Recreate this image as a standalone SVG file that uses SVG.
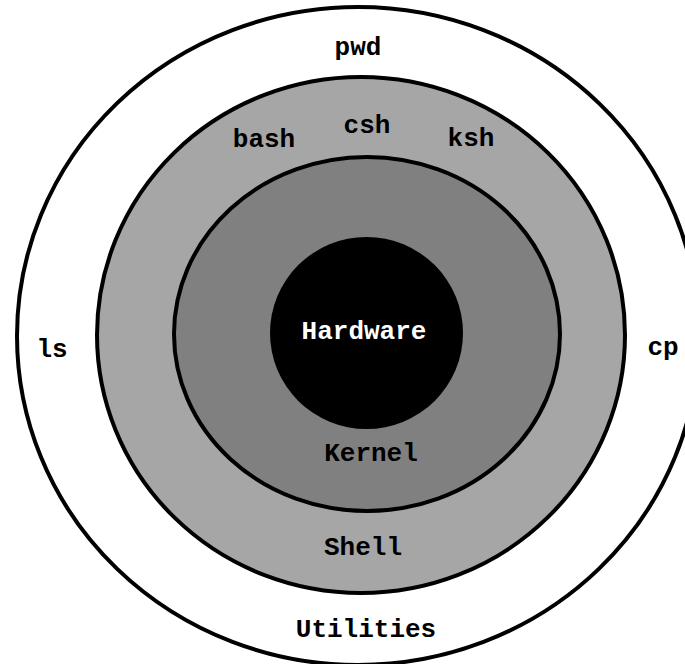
<svg xmlns="http://www.w3.org/2000/svg" width="685" height="664" viewBox="0 0 685 664">
<style>
.ring{stroke:#000;stroke-width:4}
.t{font-family:"Liberation Mono","Courier New",monospace;font-weight:bold;font-size:26px;text-anchor:middle;fill:#000}
.w{fill:#fff}
</style>
<rect width="685" height="664" fill="#fff"/>
<g id="utilities">
<ellipse class="ring" cx="358" cy="336" rx="341" ry="329" fill="#fff"/>
<text class="t" x="358" y="55">pwd</text>
<text class="t" x="52" y="357">ls</text>
<text class="t" x="663" y="355">cp</text>
<text class="t" x="366" y="637">Utilities</text>
</g>
<g id="shell">
<ellipse class="ring" cx="361" cy="335" rx="264" ry="258" fill="#a6a6a6"/>
<text class="t" x="264" y="147">bash</text>
<text class="t" x="367" y="133">csh</text>
<text class="t" x="471" y="146">ksh</text>
<text class="t" x="363" y="555">Shell</text>
</g>
<g id="kernel">
<ellipse class="ring" cx="367" cy="334" rx="193" ry="177" fill="#808080"/>
<text class="t" x="371" y="461">Kernel</text>
</g>
<g id="hardware">
<ellipse cx="366.5" cy="333" rx="96.5" ry="96" fill="#000"/>
<text class="t w" x="364" y="339">Hardware</text>
</g>
<g id="connectors"/>
</svg>
